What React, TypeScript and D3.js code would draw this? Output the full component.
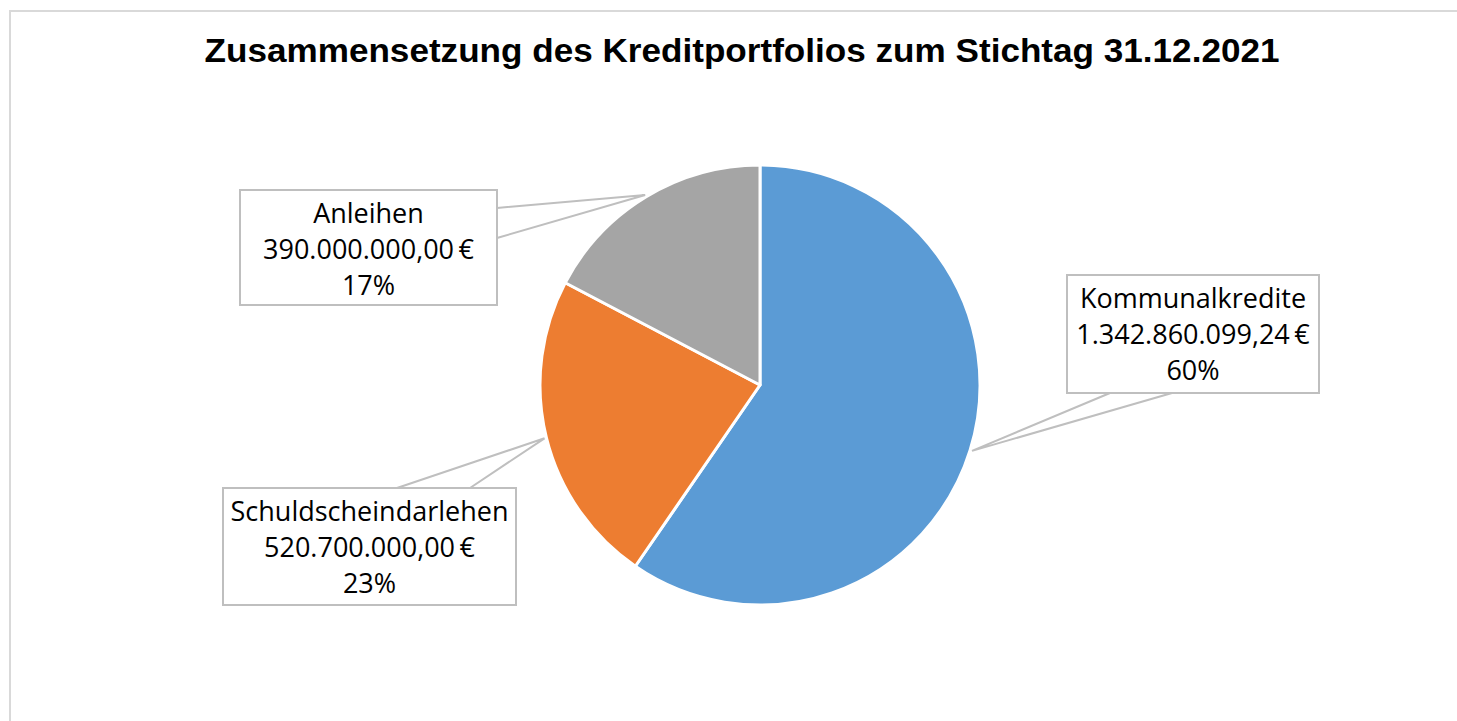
import React from 'react';
import * as d3 from 'd3';

const categories = ['Kommunalkredite', 'Schuldscheindarlehen', 'Anleihen'];
const amounts = [1342860099.24, 520700000.0, 390000000.0];
const amountLabels = ['1.342.860.099,24\u2009€', '520.700.000,00\u2009€', '390.000.000,00\u2009€'];
const percentLabels = ['60%', '23%', '17%'];
const colors = ['#5b9bd5', '#ed7d31', '#a5a5a5'];

const W = 1457;
const H = 721;
const cx = 760;
const cy = 385;
const radius = 220;

// callout boxes: [x, y, w, h] and the two base points of the pointer wedge
const boxes = [
  { x: 1067, y: 275, w: 252, h: 118, base: [[1110, 393], [1172, 393]] },
  { x: 223, y: 488, w: 293, h: 117, base: [[397, 488], [470, 488]] },
  { x: 240, y: 190, w: 257, h: 115, base: [[497, 208], [497, 238]] },
];

const labelFont = '"Open Sans", "Noto Sans", sans-serif';

const App = () => {
  const pie = d3.pie<number>().sort(null).value((d) => d);
  const arcs = pie(amounts);
  const arc = d3.arc<d3.PieArcDatum<number>>().innerRadius(0).outerRadius(radius);

  return (
    <svg width={W} height={H} style={{ position: 'absolute', left: 0, top: 0, background: '#fff' }}>
      <rect x={10} y={11} width={W + 20} height={H + 20} fill="#fff" stroke="#d9d9d9" strokeWidth={2} />
      <text
        x={742}
        y={62}
        textAnchor="middle"
        fontFamily='"Liberation Sans", Arial, sans-serif'
        fontWeight="bold"
        fontSize={34}
        textLength={1075}
        lengthAdjust="spacingAndGlyphs"
        fill="#000"
      >
        Zusammensetzung des Kreditportfolios zum Stichtag 31.12.2021
      </text>

      <g transform={`translate(${cx},${cy})`}>
        {arcs.map((a, i) => (
          <path key={categories[i]} d={arc(a) || ''} fill={colors[i]} stroke="#fff" strokeWidth={3} strokeLinejoin="round" />
        ))}
      </g>

      {arcs.map((a, i) => {
        const mid = (a.startAngle + a.endAngle) / 2;
        const tx = cx + Math.sin(mid) * (radius + 2);
        const ty = cy - Math.cos(mid) * (radius + 2);
        const b = boxes[i];
        const tcx = b.x + b.w / 2;
        const top = b.y + 33;
        return (
          <g key={categories[i] + '-label'}>
            <path
              d={`M${b.base[0][0]},${b.base[0][1]}L${tx},${ty}L${b.base[1][0]},${b.base[1][1]}`}
              fill="#fff"
              stroke="#bfbfbf"
              strokeWidth={2}
            />
            <rect x={b.x} y={b.y} width={b.w} height={b.h} fill="#fff" stroke="#bfbfbf" strokeWidth={2} />
            <text x={tcx} textAnchor="middle" fontFamily={labelFont} fontSize={27} fill="#000">
              <tspan x={tcx} y={top}>{categories[i]}</tspan>
              <tspan x={tcx} y={top + 36}>{amountLabels[i]}</tspan>
              <tspan x={tcx} y={top + 72}>{percentLabels[i]}</tspan>
            </text>
          </g>
        );
      })}
    </svg>
  );
};

export default App;
